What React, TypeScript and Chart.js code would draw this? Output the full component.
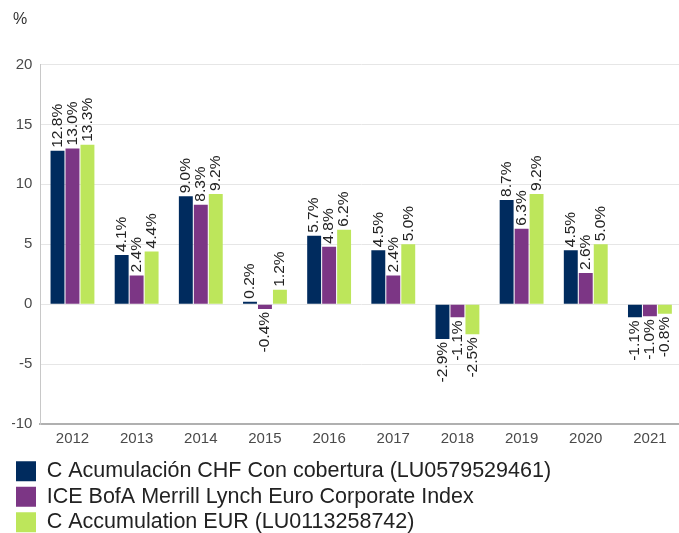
import React, { useEffect, useRef } from "react";
import { Chart, registerables } from "chart.js";

Chart.register(...registerables);

const years = ["2012", "2013", "2014", "2015", "2016", "2017", "2018", "2019", "2020", "2021"];
const seriesNames = [
  "C Acumulación CHF Con cobertura (LU0579529461)",
  "ICE BofA Merrill Lynch Euro Corporate Index",
  "C Accumulation EUR (LU0113258742)",
];
const chfHedged = [12.8, 4.1, 9.0, 0.2, 5.7, 4.5, -2.9, 8.7, 4.5, -1.1];
const benchmark = [13.0, 2.4, 8.3, -0.4, 4.8, 2.4, -1.1, 6.3, 2.6, -1.0];
const eurAcc = [13.3, 4.4, 9.2, 1.2, 6.2, 5.0, -2.5, 9.2, 5.0, -0.8];
const colors = ["#002b5e", "#7c3685", "#bde65b"];
const yMin = -10;
const yMax = 20;
const yStep = 5;
const unitLabel = "%";

const FONT = "'Liberation Sans', Arial, sans-serif";

const labelPlugin = {
  id: "barLabels",
  afterDatasetsDraw(chart: any) {
    const ctx = chart.ctx;
    ctx.save();
    ctx.font = `15.5px ${FONT}`;
    ctx.fillStyle = "#222";
    ctx.textBaseline = "middle";
    chart.data.datasets.forEach((ds: any, i: number) => {
      const meta = chart.getDatasetMeta(i);
      meta.data.forEach((bar: any, j: number) => {
        const v = ds.data[j];
        const txt = v.toFixed(1) + "%";
        ctx.save();
        if (v >= 0) {
          ctx.translate(bar.x, bar.y - 3);
          ctx.rotate(-Math.PI / 2);
          ctx.textAlign = "left";
        } else {
          ctx.translate(bar.x, bar.y + 3);
          ctx.rotate(-Math.PI / 2);
          ctx.textAlign = "right";
        }
        ctx.fillText(txt, 0, 0);
        ctx.restore();
      });
    });
    ctx.restore();
  },
};

const unitPlugin = {
  id: "unitLabel",
  afterDraw(chart: any) {
    const ctx = chart.ctx;
    ctx.save();
    ctx.font = `16px ${FONT}`;
    ctx.fillStyle = "#333";
    ctx.textAlign = "left";
    ctx.textBaseline = "middle";
    ctx.fillText(unitLabel, 13, 20);
    ctx.restore();
  },
};

export default function App() {
  const ref = useRef<HTMLCanvasElement | null>(null);

  useEffect(() => {
    if (!ref.current) return;
    const data = [chfHedged, benchmark, eurAcc];
    const chart = new Chart(ref.current, {
      type: "bar",
      data: {
        labels: years,
        datasets: seriesNames.map((name, i) => ({
          label: name,
          data: data[i],
          backgroundColor: colors[i],
          borderWidth: 0,
          barPercentage: 0.93,
          categoryPercentage: 0.7,
        })),
      },
      options: {
        responsive: false,
        animation: false,
        events: [],
        layout: { padding: { top: 64.5, left: 12, right: 2, bottom: 0 } },
        plugins: {
          tooltip: { enabled: false },
          legend: {
            position: "bottom",
            align: "start",
            labels: {
              boxWidth: 20,
              boxHeight: 20,
              padding: 4,
              color: "#222",
              font: { size: 21.5, family: FONT },
            },
          },
        },
        scales: {
          x: {
            grid: { display: false, drawTicks: false },
            border: { color: "#b0b0b0", width: 2 },
            ticks: { color: "#4a4a4a", padding: 6, font: { size: 15, family: FONT } },
            afterFit(scale: any) {
              scale.height = 32.5;
            },
          },
          y: {
            min: yMin,
            max: yMax,
            ticks: { stepSize: yStep, color: "#4a4a4a", padding: 8, font: { size: 15, family: FONT } },
            grid: { color: "#e6e6e6", drawTicks: false },
            border: { color: "#c8c8c8", width: 1 },
            afterFit(scale: any) {
              scale.width = 28.4;
            },
          },
        },
      },
      plugins: [labelPlugin, unitPlugin],
    });
    return () => chart.destroy();
  }, []);

  return (
    <div style={{ position: "absolute", left: 0, top: 0, width: 679, height: 533, overflow: "hidden", background: "#fff" }}>
      <canvas ref={ref} width={684} height={543} style={{ display: "block" }} />
    </div>
  );
}
